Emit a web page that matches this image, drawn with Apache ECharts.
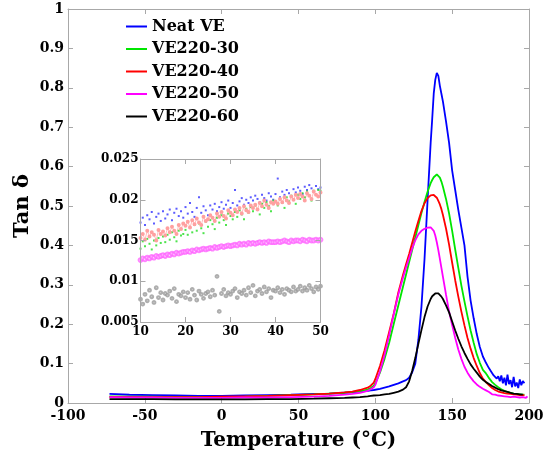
<!DOCTYPE html>
<html><head><meta charset="utf-8">
<script src="https://cdn.jsdelivr.net/npm/echarts@6/dist/echarts.min.js"></script>
<style>html,body{margin:0;padding:0;background:#fff}#c{width:548px;height:459px}</style>
</head><body><div id="c"></div>
<script>
// ---------- DATA ----------
const seriesNames = ['Neat VE', 'VE220-30', 'VE220-40', 'VE220-50', 'VE220-60'];
const xTicks = [-100, -50, 0, 50, 100, 150, 200];
const yTicks = [0, 0.1, 0.2, 0.3, 0.4, 0.5, 0.6, 0.7, 0.8, 0.9, 1];

const mainTemps = [
  -73, -60, -45, -30, -15, 0, 15, 30, 45, 60, 70, 80, 85, 90, 95, 97, 99,
  100, 103, 106, 109, 112, 115, 118, 120, 122, 124, 126, 128, 130, 132, 134,
  136, 137, 138, 139, 140, 141, 142, 143, 144, 146, 148, 150, 152, 154, 156,
  158, 160, 162, 164, 166, 168, 170,
  172, 173, 174, 175, 176, 177, 178, 179, 180, 181, 182, 183, 184, 185,
  186, 187, 188, 189, 190, 191, 192, 193, 194, 195, 196, 197, 198, 199
];
const neatVE = [
  0.023, 0.021, 0.020, 0.019, 0.018, 0.018, 0.019, 0.020, 0.021, 0.023, 0.024, 0.026, 0.027, 0.029, 0.031, 0.032, 0.033,
  0.034, 0.036, 0.039, 0.042, 0.046, 0.050, 0.055, 0.058, 0.064, 0.078, 0.100, 0.160, 0.244, 0.365, 0.515,
  0.660, 0.720, 0.785, 0.820, 0.838, 0.830, 0.805, 0.785, 0.765, 0.715, 0.660, 0.590, 0.540, 0.490, 0.445,
  0.400, 0.320, 0.260, 0.215, 0.175, 0.142, 0.118,
  0.102, 0.095, 0.088, 0.082, 0.078, 0.070, 0.074, 0.062, 0.068, 0.055, 0.070, 0.050, 0.064, 0.045,
  0.072, 0.048, 0.058, 0.040, 0.066, 0.042, 0.052, 0.038, 0.060, 0.045, 0.056, 0.050, null, null
];
const ve220_30 = [
  0.017, 0.016, 0.016, 0.015, 0.015, 0.015, 0.016, 0.018, 0.020, 0.022, 0.024, 0.026, 0.028, 0.030, 0.034, 0.038, 0.044,
  0.050, 0.077, 0.112, 0.153, 0.201, 0.248, 0.295, 0.326, 0.358, 0.389, 0.420, 0.451, 0.482, 0.510, 0.536,
  0.558, 0.566, 0.573, 0.578, 0.580, 0.579, 0.572, 0.562, 0.549, 0.518, 0.481, 0.437, 0.389, 0.343, 0.298,
  0.258, 0.220, 0.184, 0.153, 0.124, 0.102, 0.084,
  0.075, 0.069, 0.063, 0.058, 0.053, 0.049, 0.046, 0.043, 0.040, 0.037, 0.035, 0.033, 0.031, 0.029,
  0.028, 0.027, 0.026, 0.025, 0.024, 0.023, 0.023, 0.022, 0.022, 0.021, 0.021, 0.021, null, null
];
const ve220_40 = [
  0.015, 0.015, 0.015, 0.015, 0.015, 0.016, 0.017, 0.018, 0.020, 0.022, 0.024, 0.027, 0.029, 0.033, 0.039, 0.044, 0.052,
  0.061, 0.094, 0.134, 0.180, 0.227, 0.281, 0.325, 0.352, 0.378, 0.407, 0.435, 0.462, 0.487, 0.507, 0.520,
  0.527, 0.528, 0.528, 0.526, 0.521, 0.513, 0.504, 0.492, 0.477, 0.443, 0.402, 0.356, 0.311, 0.270, 0.232,
  0.197, 0.165, 0.138, 0.114, 0.094, 0.076, 0.062,
  0.053, 0.049, 0.045, 0.041, 0.038, 0.035, 0.033, 0.031, 0.029, 0.028, 0.027, 0.026, 0.025, 0.025,
  0.024, 0.023, 0.023, 0.022, 0.022, 0.021, 0.021, 0.021, 0.020, 0.020, 0.020, 0.020, null, null
];
const ve220_50 = [
  0.015, 0.014, 0.014, 0.013, 0.013, 0.013, 0.014, 0.014, 0.015, 0.016, 0.018, 0.021, 0.023, 0.026, 0.031, 0.035, 0.040,
  0.046, 0.080, 0.122, 0.172, 0.226, 0.276, 0.318, 0.344, 0.368, 0.392, 0.413, 0.428, 0.437, 0.442, 0.445,
  0.446, 0.444, 0.437, 0.425, 0.408, 0.388, 0.366, 0.343, 0.320, 0.275, 0.232, 0.198, 0.165, 0.136, 0.112,
  0.092, 0.077, 0.065, 0.055, 0.047, 0.041, 0.036,
  0.032, 0.030, 0.028, 0.033, 0.022, 0.026, 0.021, 0.024, 0.019, 0.022, 0.018, 0.021, 0.017, 0.020,
  0.016, 0.019, 0.015, 0.018, 0.016, 0.019, 0.015, 0.017, 0.014, 0.018, 0.015, 0.016, 0.013, 0.017
];
const ve220_60 = [
  0.010, 0.010, 0.010, 0.009, 0.009, 0.009, 0.009, 0.010, 0.010, 0.011, 0.012, 0.013, 0.014, 0.015, 0.017, 0.018, 0.019,
  0.019, 0.020, 0.022, 0.023, 0.026, 0.029, 0.034, 0.040, 0.055, 0.082, 0.114, 0.150, 0.185, 0.218, 0.245,
  0.264, 0.271, 0.275, 0.278, 0.279, 0.278, 0.275, 0.270, 0.264, 0.248, 0.230, 0.207, 0.184, 0.163, 0.144,
  0.127, 0.112, 0.098, 0.087, 0.077, 0.067, 0.059,
  0.053, 0.051, 0.048, 0.045, 0.043, 0.041, 0.039, 0.037, 0.035, 0.034, 0.032, 0.031, 0.030, 0.029,
  0.028, 0.027, 0.026, 0.025, 0.024, 0.023, 0.023, 0.022, 0.022, 0.021, 0.021, null, null, null
];

// inset (10-50 °C)
const insetXTicks = [10, 20, 30, 40, 50];
const insetYTicks = [0.005, 0.01, 0.015, 0.02, 0.025];
const insetTemps = [
  10, 10.5, 11, 11.5, 12, 12.5, 13, 13.5, 14, 14.5,
  15, 15.5, 16, 16.5, 17, 17.5, 18, 18.5, 19, 19.5,
  20, 20.5, 21, 21.5, 22, 22.5, 23, 23.5, 24, 24.5,
  25, 25.5, 26, 26.5, 27, 27.5, 28, 28.5, 29, 29.5,
  30, 30.5, 31, 31.5, 32, 32.5, 33, 33.5, 34, 34.5,
  35, 35.5, 36, 36.5, 37, 37.5, 38, 38.5, 39, 39.5,
  40, 40.5, 41, 41.5, 42, 42.5, 43, 43.5, 44, 44.5,
  45, 45.5, 46, 46.5, 47, 47.5, 48, 48.5, 49, 49.5,
  50
];
const insetNeat = [
  0.0172,0.0178,0.0169,0.0181,0.0176,0.0185,0.0171,0.0179,0.0183,0.0174,
  0.0186,0.0177,0.0182,0.0188,0.0175,0.0184,0.0189,0.0180,0.0186,0.0178,
  0.0191,0.0183,0.0196,0.0185,0.0179,0.0190,0.0203,0.0184,0.0192,0.0187,
  0.0181,0.0193,0.0188,0.0195,0.0186,0.0191,0.0197,0.0189,0.0194,0.0199,
  0.0190,0.0196,0.0212,0.0193,0.0198,0.0202,0.0194,0.0200,0.0196,0.0203,
  0.0199,0.0205,0.0201,0.0197,0.0206,0.0202,0.0199,0.0208,0.0204,0.0200,
  0.0207,0.0226,0.0203,0.0210,0.0206,0.0212,0.0208,0.0204,0.0213,0.0209,
  0.0215,0.0211,0.0207,0.0216,0.0212,0.0218,0.0214,0.0210,0.0217,0.0213,
  0.0215
];
const inset30 = [
  0.0140,0.0149,0.0143,0.0152,0.0146,0.0139,0.0150,0.0144,0.0153,0.0147,
  0.0155,0.0148,0.0157,0.0151,0.0160,0.0154,0.0149,0.0162,0.0156,0.0158,
  0.0163,0.0157,0.0166,0.0160,0.0169,0.0162,0.0171,0.0165,0.0159,0.0173,
  0.0167,0.0175,0.0170,0.0164,0.0178,0.0172,0.0181,0.0175,0.0169,0.0183,
  0.0180,0.0176,0.0185,0.0179,0.0187,0.0182,0.0176,0.0189,0.0184,0.0191,
  0.0186,0.0193,0.0188,0.0182,0.0195,0.0190,0.0197,0.0192,0.0186,0.0199,
  0.0197,0.0193,0.0201,0.0196,0.0190,0.0203,0.0198,0.0205,0.0200,0.0195,
  0.0206,0.0201,0.0208,0.0203,0.0210,0.0205,0.0199,0.0211,0.0207,0.0212,
  0.0211
];
const inset40 = [
  0.0153,0.0158,0.0151,0.0162,0.0155,0.0160,0.0157,0.0150,0.0163,0.0158,
  0.0161,0.0156,0.0165,0.0160,0.0167,0.0162,0.0158,0.0169,0.0164,0.0171,
  0.0168,0.0173,0.0166,0.0175,0.0170,0.0177,0.0172,0.0169,0.0179,0.0174,
  0.0176,0.0181,0.0178,0.0174,0.0183,0.0179,0.0185,0.0180,0.0177,0.0187,
  0.0184,0.0181,0.0188,0.0185,0.0190,0.0183,0.0192,0.0187,0.0185,0.0193,
  0.0190,0.0194,0.0188,0.0196,0.0192,0.0199,0.0194,0.0190,0.0197,0.0195,
  0.0198,0.0195,0.0201,0.0197,0.0203,0.0199,0.0196,0.0204,0.0200,0.0206,
  0.0202,0.0207,0.0204,0.0199,0.0208,0.0205,0.0201,0.0210,0.0206,0.0204,
  0.0209
];
const inset50 = [
  0.0126,0.0128,0.0127,0.0129,0.0128,0.0130,0.0129,0.0131,0.0130,0.0131,
  0.0132,0.0131,0.0133,0.0132,0.0134,0.0133,0.0135,0.0134,0.0135,0.0136,
  0.0136,0.0137,0.0136,0.0138,0.0137,0.0139,0.0138,0.0139,0.0140,0.0139,
  0.0140,0.0141,0.0140,0.0142,0.0141,0.0142,0.0143,0.0142,0.0143,0.0144,
  0.0143,0.0144,0.0145,0.0144,0.0146,0.0145,0.0146,0.0145,0.0147,0.0146,
  0.0147,0.0146,0.0147,0.0148,0.0147,0.0148,0.0147,0.0149,0.0148,0.0148,
  0.0148,0.0149,0.0148,0.0149,0.0150,0.0149,0.0148,0.0150,0.0149,0.0150,
  0.0150,0.0149,0.0151,0.0150,0.0149,0.0151,0.0150,0.0150,0.0151,0.0150,
  0.0151
];
const inset60 = [
  0.0078,0.0072,0.0084,0.0076,0.0089,0.0081,0.0074,0.0092,0.0080,0.0086,
  0.0077,0.0085,0.0083,0.0088,0.0079,0.0091,0.0075,0.0084,0.0082,0.0087,
  0.0080,0.0086,0.0078,0.0090,0.0083,0.0077,0.0088,0.0084,0.0079,0.0085,
  0.0087,0.0081,0.0089,0.0083,0.0106,0.0063,0.0085,0.0090,0.0082,0.0086,
  0.0084,0.0088,0.0091,0.0080,0.0087,0.0085,0.0089,0.0083,0.0092,0.0086,
  0.0095,0.0082,0.0088,0.0090,0.0085,0.0093,0.0087,0.0091,0.0080,0.0089,
  0.0088,0.0092,0.0086,0.0090,0.0084,0.0091,0.0089,0.0087,0.0093,0.0088,
  0.0090,0.0094,0.0088,0.0092,0.0089,0.0095,0.0091,0.0087,0.0093,0.0090,
  0.0094
];

// ---------- CHART ----------
const colors = ['#0000ff', '#00e600', '#ff0000', '#ff00ff', '#000000'];
const FONT = 'DejaVu Serif';
const frameColor = '#a8a8a8';

function pairs(xs, ys) {
  const out = [];
  xs.forEach((x, i) => { if (ys[i] !== null && ys[i] !== undefined) out.push([x, ys[i]]); });
  return out;
}

function axis(gridIndex, pos, min, max, interval, showLabel, labelSize, margin, extra) {
  return Object.assign({
    type: 'value', gridIndex: gridIndex, position: pos, min: min, max: max, interval: interval,
    axisLine: { show: true, onZero: false, lineStyle: { color: frameColor, width: 1 } },
    axisTick: { show: true, inside: true, length: 5, lineStyle: { color: frameColor } },
    splitLine: { show: false },
    axisLabel: { show: showLabel, color: '#000', fontFamily: FONT, fontWeight: 'bold', fontSize: labelSize, margin: margin }
  }, extra || {});
}

const mainSets = [neatVE, ve220_30, ve220_40, ve220_50, ve220_60];
const insetSets = [insetNeat, inset30, inset40, inset50, inset60];
const insetStyles = [
  { type: 'scatter', symbol: 'rect', size: 2, color: '#3333ff', bw: 0 },
  { type: 'scatter', symbol: 'rect', size: 2, color: '#22dd22', bw: 0 },
  { type: 'line', symbol: 'emptyCircle', size: 2, color: '#ffa0a0', bw: 0.6 },
  { type: 'scatter', symbol: 'emptyCircle', size: 3.8, color: '#ff66ff', bw: 0.7 },
  { type: 'scatter', symbol: 'emptyCircle', size: 2.8, color: '#9a9a9a', bw: 0.6 }
];

const series = [];
mainSets.forEach((vals, i) => {
  series.push({
    name: seriesNames[i], type: 'line', xAxisIndex: 0, yAxisIndex: 0,
    data: pairs(mainTemps, vals), showSymbol: false, symbol: 'none',
    lineStyle: { color: colors[i], width: 1.8 }, itemStyle: { color: colors[i] },
    z: 2, silent: true
  });
});
insetSets.forEach((vals, i) => {
  const st = insetStyles[i];
  const s = {
    name: 'inset-' + seriesNames[i], type: st.type, xAxisIndex: 2, yAxisIndex: 2,
    data: pairs(insetTemps, vals), symbol: st.symbol, symbolSize: st.size,
    itemStyle: { color: st.color, borderColor: st.color, borderWidth: st.bw },
    z: 5, silent: true
  };
  if (st.type === 'line') {
    s.showSymbol = true;
    s.lineStyle = { color: st.color, width: 0.7 };
  }
  series.push(s);
});

const chart = echarts.init(document.getElementById('c'), null, { renderer: 'canvas' });
chart.setOption({
  animation: false,
  backgroundColor: '#fff',
  grid: [
    { left: 68, right: 19, top: 9, bottom: 56, containLabel: false },
    { left: 140.5, top: 159, width: 180, height: 163, show: true, backgroundColor: '#fff', borderWidth: 0, z: 4 }
  ],
  legend: {
    data: seriesNames, orient: 'vertical', left: 121, top: 13, itemGap: 5.5,
    itemWidth: 21, itemHeight: 2, icon: 'rect',
    textStyle: { fontFamily: FONT, fontWeight: 'bold', fontSize: 16, color: '#000', lineHeight: 17 },
    selectedMode: false
  },
  xAxis: [
    axis(0, 'bottom', xTicks[0], xTicks[xTicks.length - 1], 50, true, 14, 6, {
      name: 'Temperature (°C)', nameLocation: 'middle', nameGap: 28, nameMoveOverlap: false,
      nameTextStyle: { fontFamily: FONT, fontWeight: 'bold', fontSize: 20, color: '#000' }
    }),
    axis(0, 'top', xTicks[0], xTicks[xTicks.length - 1], 50, false, 14, 6),
    axis(1, 'bottom', insetXTicks[0], insetXTicks[insetXTicks.length - 1], 10, true, 12, 4, { z: 6 }),
    axis(1, 'top', insetXTicks[0], insetXTicks[insetXTicks.length - 1], 10, false, 12, 4, { z: 6 })
  ],
  yAxis: [
    axis(0, 'left', yTicks[0], yTicks[yTicks.length - 1], 0.1, true, 14, 4, {
      name: 'Tan δ', nameLocation: 'middle', nameGap: 35, nameRotate: 90, nameMoveOverlap: false,
      nameTextStyle: { fontFamily: FONT, fontWeight: 'bold', fontSize: 21, color: '#000' }
    }),
    axis(0, 'right', yTicks[0], yTicks[yTicks.length - 1], 0.1, false, 14, 4),
    axis(1, 'left', insetYTicks[0], insetYTicks[insetYTicks.length - 1], 0.005, true, 12, 2, { z: 6 }),
    axis(1, 'right', insetYTicks[0], insetYTicks[insetYTicks.length - 1], 0.005, false, 12, 2, { z: 6 })
  ],
  series: series
});
</script>
</body></html>
